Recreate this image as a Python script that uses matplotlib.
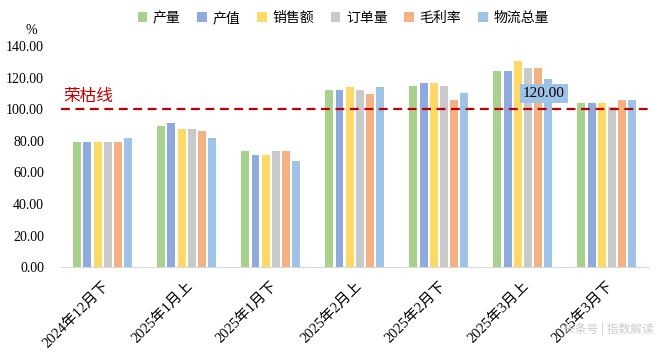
import numpy as np
import matplotlib.pyplot as plt

plt.rcParams['font.family'] = ['Noto Sans CJK SC', 'DejaVu Sans']

# data
periods = ['2024年12月下', '2025年1月上', '2025年1月下', '2025年2月上',
           '2025年2月下', '2025年3月上', '2025年3月下']
series = ['产量', '产值', '销售额', '订单量', '毛利率', '物流总量']
output_vol = [79, 89.5, 73.5, 112, 114.5, 124.5, 104]
output_val = [79, 91, 71, 112, 116.5, 124.5, 104]
sales = [79, 87.5, 71, 114, 116.5, 130.5, 104]
orders = [79, 87.5, 73.5, 112, 114.5, 126, 101.5]
margin = [79, 86, 73.5, 110, 106, 126, 106]
logistics = [82, 82, 67.5, 114, 110.5, 119.5, 106]
values = [output_vol, output_val, sales, orders, margin, logistics]
colors = ['#A9D18E', '#8FAADC', '#FFD966', '#C9C9C9', '#F4B183', '#9DC3E6']
threshold = 100

fig = plt.figure(figsize=(6.6, 3.58), dpi=100)
ax = fig.add_axes([0.092, 0.254, 0.891, 0.617])

x = np.arange(len(periods))
width = 0.095
step = 0.121
for i, (name, vals, c) in enumerate(zip(series, values, colors)):
    ax.bar(x + (i - 2.5) * step, vals, width, color=c, label=name)

# boom-bust line
ax.axhline(threshold, color='#C00000', linestyle=(0, (4, 2.5)), lw=1.6)
ax.text(-0.47, threshold + 3, '荣枯线', color='#C00000', fontsize=12, va='bottom')

# data label on one bar
ax.text(5.0, 110, '120.00', fontsize=11, family=['Liberation Serif'],
        ha='left', va='center',
        bbox=dict(boxstyle='square,pad=0.2', fc='#9DC3E6', ec='none'))

ax.set_xlim(-0.5, len(periods) - 0.5)
ax.set_ylim(0, 140)
ax.set_yticks(np.arange(0, 141, 20))
ax.set_yticklabels([f'{v:.2f}' for v in range(0, 141, 20)],
                   family=['Liberation Serif'], fontsize=10)
ax.set_xticks(x)
ax.set_xticklabels(periods, rotation=45, ha='right', rotation_mode='anchor',
                   family=['Liberation Serif', 'Noto Sans CJK SC'], fontsize=10.5)
ax.tick_params(axis='both', length=0)
ax.tick_params(axis='y', pad=12)
ax.tick_params(axis='x', pad=9)
for s in ['top', 'right', 'left']:
    ax.spines[s].set_visible(False)
ax.spines['bottom'].set_color('#D9D9D9')

fig.text(0.047, 0.905, '%', family=['Liberation Serif'], fontsize=10, ha='center')

fig.legend(loc='center', bbox_to_anchor=(0.52, 0.95), ncol=6, frameon=False,
           fontsize=10, handlelength=0.7, handleheight=0.7, handletextpad=0.4,
           columnspacing=1.2)

fig.text(0.99, 0.07, '头条号 | 指数解读', color='#CCCCCC', fontsize=8.5, ha='right')

fig.savefig('out.png', dpi=100)
